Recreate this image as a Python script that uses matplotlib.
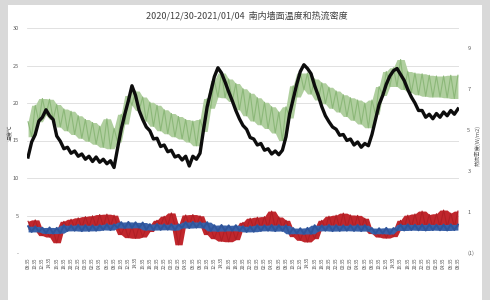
import numpy as np
import pandas as pd
import matplotlib
matplotlib.use("Agg")
from matplotlib import pyplot as plt
from matplotlib.patches import Rectangle

plt.rcParams['font.family'] = ['Noto Sans CJK SC', 'DejaVu Sans']

TITLE = "2020/12/30-2021/01/04  南内墙面温度和热流密度"
START = "2020-12-30 08:35"

# hourly readings
black = [12.8, 14.8, 15.8, 17.6, 18.1, 19.1, 18.3, 17.8, 15.6, 14.9,
         13.9, 14.1, 13.3, 13.6, 12.9, 13.2, 12.5, 12.9, 12.2, 12.8,
         12.1, 12.5, 11.9, 12.3, 11.4, 14.0, 16.5, 18.5, 20.3, 22.3,
         21.0, 19.0, 17.8, 16.8, 16.3, 15.2, 15.3, 14.2, 14.4, 13.5,
         13.7, 12.8, 13.0, 12.4, 12.9, 11.6, 12.9, 12.5, 13.3, 16.5,
         19.5, 21.5, 23.5, 24.7, 24.0, 22.8, 21.5, 20.3, 19.0, 17.9,
         17.0, 16.5, 15.4, 15.2, 14.4, 14.6, 13.7, 13.9, 13.2, 13.6,
         13.1, 13.7, 15.5, 18.5, 20.5, 22.5, 24.2, 25.1, 24.6, 23.9,
         22.3, 21.0, 19.5, 18.3, 17.5, 16.8, 16.5, 15.7, 15.8, 15.0,
         15.2, 14.4, 14.8, 14.1, 14.6, 14.3, 15.8, 17.8, 19.8, 21.0,
         22.5, 23.6, 24.3, 24.6, 23.8, 23.0, 21.8, 20.8, 20.0, 19.0,
         19.0, 18.1, 18.5, 17.9, 18.6, 18.1, 18.8, 18.3, 19.0, 18.5,
         19.2]

green = [17.5, 15.5, 19.7, 17.5, 20.6, 18.4, 20.5, 17.8, 19.8, 16.8,
         19.2, 16.3, 18.9, 15.8, 18.3, 15.3, 17.8, 14.9, 17.4, 14.5,
         16.9, 14.1, 17.9, 13.9, 16.6, 14.8, 18.5, 17.2, 21.0, 19.7,
         21.6, 19.0, 20.8, 17.6, 20.1, 16.9, 19.7, 16.3, 19.1, 15.9,
         18.6, 15.5, 18.2, 15.2, 17.8, 14.8, 17.6, 14.3, 17.8, 16.2,
         20.6, 19.3, 23.0, 20.8, 24.0, 20.7, 23.2, 20.2, 22.6, 19.1,
         21.9, 18.3, 21.3, 17.6, 20.7, 17.1, 20.1, 16.6, 19.5, 16.0,
         18.8, 15.0, 19.5, 18.0, 22.3, 20.8, 24.0, 21.8, 24.0, 21.2,
         23.2, 20.4, 22.7, 19.9, 22.1, 19.3, 21.6, 18.8, 21.1, 18.2,
         20.7, 17.7, 20.4, 17.2, 20.0, 16.7, 20.4, 18.5, 22.2, 21.0,
         24.2, 22.2, 24.7, 22.2, 25.8, 21.8, 24.2, 21.4, 24.0, 21.1,
         23.9, 20.9, 23.7, 20.8, 23.6, 20.8, 23.6, 20.7, 23.7, 20.6,
         23.7]

red = [0.55, 0.15, 0.62, 0.10, -0.15, 0.15, -0.22, 0.10, -0.50, 0.15,
       0.55, 0.25, 0.65, 0.25, 0.72, 0.25, 0.78, 0.28, 0.82, 0.28,
       0.88, 0.30, 0.90, 0.30, 0.85, 0.30, -0.10, 0.30, -0.25, 0.30,
       -0.28, 0.30, -0.22, 0.25, 0.05, 0.35, 0.60, 0.35, 0.80, 0.35,
       0.96, 0.35, -0.60, 0.35, 0.86, 0.35, 0.88, 0.35, 0.82, 0.35,
       -0.10, 0.20, -0.30, 0.20, -0.42, 0.20, -0.45, 0.20, -0.35, 0.18,
       0.50, 0.20, 0.70, 0.20, 0.75, 0.22, 0.78, 0.22, 1.05, 0.22,
       0.76, 0.22, 0.60, 0.15, -0.20, 0.10, -0.38, 0.10, -0.46, 0.10,
       -0.30, 0.20, 0.60, 0.22, 0.80, 0.22, 0.85, 0.22, 0.95, 0.22,
       0.86, 0.22, 0.84, 0.22, 0.70, 0.15, -0.05, 0.10, -0.22, 0.10,
       -0.27, 0.10, -0.20, 0.15, 0.60, 0.25, 0.85, 0.25, 0.91, 0.25,
       1.05, 0.25, 0.88, 0.25, 0.92, 0.28, 1.10, 0.28, 0.95, 0.28,
       1.05]

blue = [0.31, 0.03, 0.30, 0.04, 0.24, -0.04, 0.25, -0.05, 0.23, -0.03,
        0.36, 0.08, 0.35, 0.09, 0.37, 0.07, 0.36, 0.08, 0.35, 0.09,
        0.36, 0.13, 0.41, 0.12, 0.40, 0.23, 0.51, 0.22, 0.52, 0.23,
        0.50, 0.24, 0.49, 0.13, 0.41, 0.12, 0.42, 0.13, 0.40, 0.14,
        0.41, 0.12, 0.40, 0.23, 0.51, 0.22, 0.52, 0.24, 0.50, 0.23,
        0.51, 0.08, 0.36, 0.07, 0.37, 0.08, 0.35, 0.09, 0.36, 0.08,
        0.31, 0.03, 0.30, 0.04, 0.36, 0.08, 0.35, 0.09, 0.37, 0.07,
        0.36, 0.08, 0.35, -0.06, 0.22, -0.05, 0.21, -0.07, 0.23, -0.06,
        0.36, 0.08, 0.35, 0.09, 0.37, 0.07, 0.36, 0.08, 0.35, 0.09,
        0.36, 0.08, 0.37, 0.07, 0.36, 0.08, 0.22, -0.06, 0.21, -0.05,
        0.23, -0.07, 0.22, 0.11, 0.39, 0.10, 0.40, 0.12, 0.38, 0.11,
        0.39, 0.10, 0.40, 0.12, 0.38, 0.11, 0.39, 0.10, 0.40, 0.12,
        0.39]

hours = np.arange(len(black))
tick_hours = hours[::2]
tick_labels = pd.date_range(START, periods=len(tick_hours), freq="2h").strftime("%H:%M")

left_ticks = [0, 5, 10, 15, 20, 25, 30]
left_labels = ["-", "5", "10", "15", "20", "25", "30"]
right_ticks = [-1, 1, 3, 5, 7, 9]
right_labels = ["(1)", "1", "3", "5", "7", "9"]


def band(ax, vals, fill_c, line_c, lw, z):
    """noisy trace: shade between neighbouring readings, then the trace itself"""
    s = pd.Series(vals)
    hi = s.rolling(3, center=True, min_periods=1).max()
    lo = s.rolling(3, center=True, min_periods=1).min()
    ax.fill_between(hours, lo, hi, color=fill_c, lw=0, zorder=z)
    ax.plot(hours, vals, color=line_c, lw=lw, zorder=z + 0.1)


W, H = 490, 300
fig = plt.figure(figsize=(W / 100, H / 100), dpi=100, facecolor="#d9d9d9")
fig.patches.append(Rectangle((8 / W, 0), 474 / W, 295 / H, transform=fig.transFigure,
                             facecolor="white", edgecolor="none", zorder=-5))

ax = fig.add_axes([27 / W, 1 - 253 / H, 432 / W, 225 / H])
ax.set_facecolor("none")
ax2 = ax.twinx()
ax2.patch.set_visible(False)

band(ax, green, "#b0cf9f", "#8cb879", 0.8, 2)
ax.plot(hours, black, color="#0d0d0d", lw=2.4, zorder=3)
band(ax2, red, "#c1272d", "#b01f25", 0.8, 2)
band(ax2, blue, "#3a62a9", "#2f559b", 1.4, 3)

ax.set_xlim(-0.3, hours[-1] + 0.3)
ax.set_ylim(0, 30)
ax2.set_ylim(-1, 10)

ax.set_yticks(left_ticks)
ax.set_yticklabels(left_labels)
ax2.set_yticks(right_ticks)
ax2.set_yticklabels(right_labels)
ax2.get_yticklabels()[0].set_color("#c1272d")

ax.set_xticks(tick_hours)
ax.set_xticklabels(tick_labels, rotation=90)

ax.grid(axis="y", color="#dcdcdc", lw=0.6)
ax.set_axisbelow(True)
for a in (ax, ax2):
    for s in a.spines.values():
        s.set_visible(False)
ax.tick_params(axis="both", length=0, labelsize=4, colors="#595959")
ax.tick_params(axis="y", pad=6)
ax.tick_params(axis="x", labelsize=3.3, pad=3, colors="#4d4d4d")
ax2.tick_params(axis="y", length=0, labelsize=4, colors="#595959", pad=6)

fig.text(11 / W, 1 - 133 / H, "温度℃", rotation=90, fontsize=4, color="#595959",
         ha="center", va="center")
fig.text(478 / W, 1 - 145 / H, "热流密度(W/m2)", rotation=90, fontsize=4, color="#595959",
         ha="center", va="center")
fig.text(247 / W, 1 - 16 / H, TITLE, fontsize=6.5, color="#404040", ha="center", va="center")

fig.savefig("out.png", dpi=100, facecolor=fig.get_facecolor())
